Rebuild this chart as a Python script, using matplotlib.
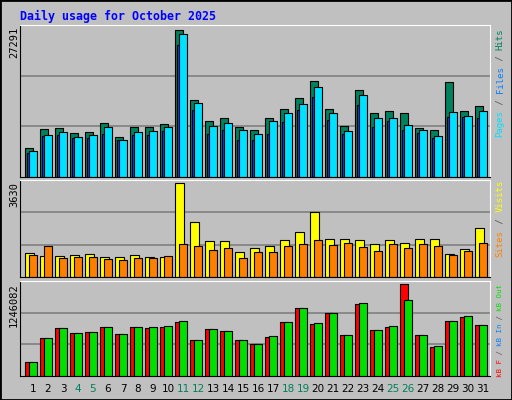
import numpy as np
import matplotlib.pyplot as plt
from matplotlib.patches import Rectangle

days = list(range(1, 32))
weekends = [4, 5, 11, 12, 18, 19, 25, 26]

hits = [5433, 8953, 9138, 8212, 8397, 10064, 7471, 9323, 9323, 9879, 27291, 14324, 10434, 10990, 9323, 8767,
        10990, 12657, 14694, 17843, 12657, 9508, 16176, 11916, 12287, 11916, 9138, 8767, 17658, 12287, 13213]
files = [4877, 7841, 8397, 7471, 7841, 9323, 6915, 8397, 8582, 9323, 26549, 13768, 9508, 10064, 8767, 8026,
         10434, 11916, 13583, 16732, 11916, 8582, 15250, 10990, 10990, 9693, 8767, 7656, 12101, 11360, 12287]
pages = [4507, 7656, 7841, 7285, 7285, 8026, 6915, 7841, 7841, 8582, 24511, 12472, 8026, 8767, 6915, 6915,
         8026, 10249, 12472, 14880, 10619, 8026, 13398, 9323, 10434, 8767, 8212, 7285, 11175, 11175, 10990]
visits = [917, 799, 799, 839, 878, 760, 760, 839, 760, 760, 3630, 2136, 1389, 1389, 957, 1114,
          1193, 1428, 1743, 2490, 1468, 1468, 1428, 1271, 1428, 1310, 1468, 1468, 878, 1075, 1900]
sites = [839, 1193, 721, 760, 760, 681, 642, 721, 721, 799, 1271, 1193, 1035, 1114, 721, 957,
         957, 1193, 1271, 1428, 1232, 1310, 1153, 996, 1271, 1114, 1271, 1193, 839, 996, 1310]
kb_in = [191000, 509000, 646000, 578000, 591000, 659000, 564000, 659000, 646000, 659000, 728000, 482000,
         632000, 605000, 482000, 428000, 523000, 728000, 919000, 700000, 850000, 550000, 978000, 619000,
         659000, 1246082, 550000, 387000, 741000, 796000, 687000]
kb_out = [191000, 509000, 646000, 578000, 591000, 659000, 564000, 659000, 659000, 673000, 741000, 482000,
          632000, 605000, 482000, 428000, 537000, 728000, 919000, 714000, 850000, 550000, 987000, 619000,
          673000, 1028000, 550000, 400000, 741000, 810000, 687000]

W, H = 512, 400
BG = '#C0C0C0'
fig = plt.figure(figsize=(W / 100, H / 100), dpi=100, facecolor=BG)
fig.patches.append(Rectangle((0, 0), 1, 1, transform=fig.transFigure, fill=False,
                             edgecolor='black', linewidth=2))
mono = 'DejaVu Sans Mono'


def panel(top, bottom):
    ax = fig.add_axes([20 / W, 1 - bottom / H, 470 / W, (bottom - top) / H])
    ax.set_facecolor(BG)
    ax.set_xlim(-0.33, 31)
    ax.set_xticks([])
    ax.set_yticks([])
    for s in ['top', 'right']:
        ax.spines[s].set_color('white')
    for s in ['left', 'bottom']:
        ax.spines[s].set_color('black')
    return ax


def grid(ax, vmax):
    top = vmax / 0.97
    ax.set_ylim(0, top)
    for f in (1 / 3, 2 / 3):
        ax.axhline(top * f, color='#808080', linewidth=1.2, zorder=0)


x = np.arange(31)
kw = dict(align='edge', edgecolor='black', linewidth=0.8)

ax1 = panel(25, 177)
grid(ax1, max(hits))
ax1.bar(x, hits, width=0.51, color='#00805C', **kw)
ax1.bar(x + 0.16, pages, width=0.3, color='#0040FF', **kw)
ax1.bar(x + 0.29, files, width=0.49, color='#00E0FF', **kw)

ax2 = panel(180, 277)
grid(ax2, max(visits))
ax2.bar(x, visits, width=0.58, color='#FFFF00', **kw)
ax2.bar(x + 0.27, sites, width=0.51, color='#FF8000', **kw)

ax3 = panel(281, 376)
grid(ax3, max(kb_in))
ax3.bar(x, kb_in, width=0.51, color='#FF0000', **kw)
ax3.bar(x + 0.27, kb_out, width=0.51, color='#00E000', **kw)

fig.text(20 / W, 1 - 16 / H, 'Daily usage for October 2025', color='#0000FF',
         fontsize=8.4, fontweight='bold', family=mono, va='center')

for val, ytop in [(max(hits), 27), (max(visits), 182), (max(kb_in), 283)]:
    fig.text(14 / W, 1 - ytop / H, str(val), rotation=90, fontsize=7.5, family=mono,
             ha='center', va='top')


def side_label(ybottom, parts, step, size):
    y = ybottom
    for txt, col in parts:
        fig.text(500 / W, 1 - y / H, txt, rotation=90, color=col, fontsize=size, family=mono,
                 ha='center', va='bottom')
        y -= len(txt) * step


side_label(137, [('Pages', '#00E0FF'), (' / ', '#555555'), ('Files', '#0080FF'),
                 (' / ', '#555555'), ('Hits', '#00805C')], 5.45, 6.5)
side_label(257, [('Sites', '#FF8000'), (' / ', '#555555'), ('Visits', '#FFFF00')], 5.6, 6.5)
side_label(377, [('kB F', '#FF0000'), (' / ', '#555555'), ('kB In', '#0080FF'),
                 (' / ', '#555555'), ('kB Out', '#00E000')], 4.4, 5.3)

for d in days:
    xc = (25 + (d - 1) * 15 + 8) / W
    col = '#00805C' if d in weekends else 'black'
    fig.text(xc, 1 - 389 / H, str(d), color=col, fontsize=7.5, ha='center', va='center')

fig.savefig('out.png', dpi=100, facecolor=BG)
